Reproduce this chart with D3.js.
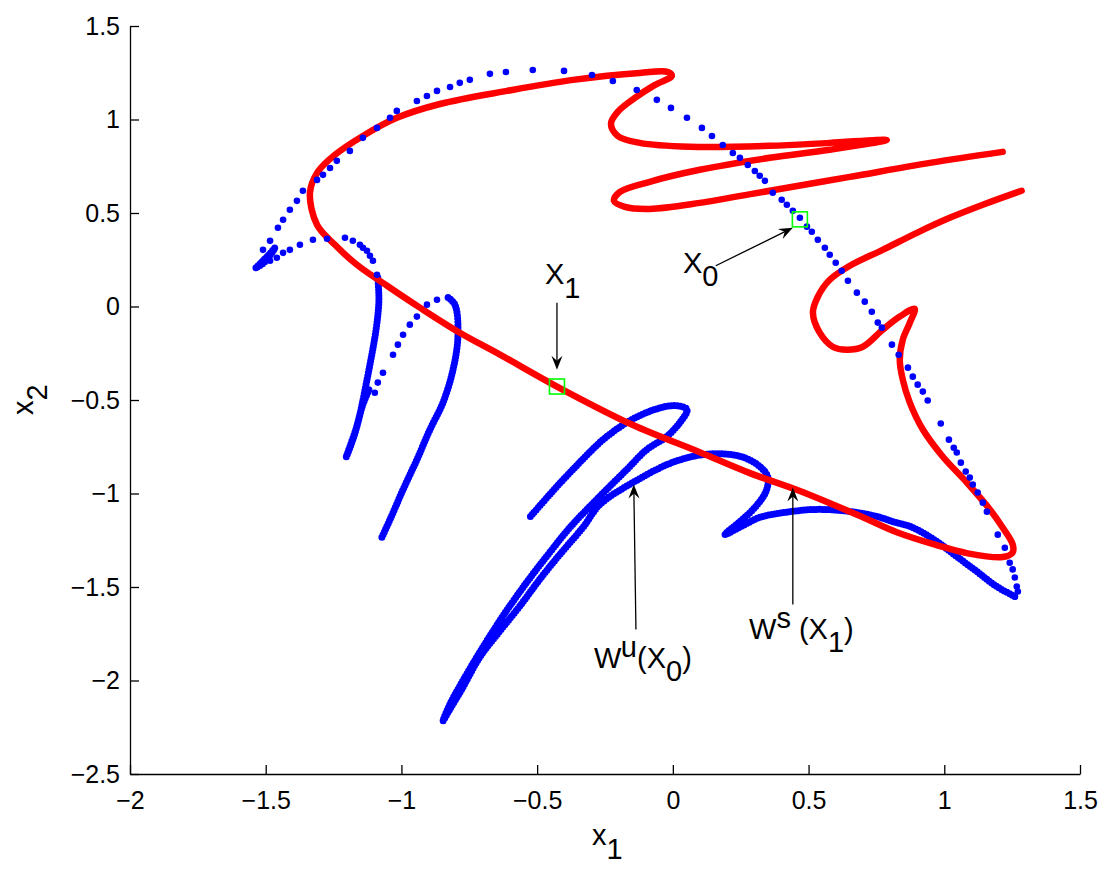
<!DOCTYPE html>
<html>
<head>
<meta charset="utf-8">
<script src="https://cdn.jsdelivr.net/npm/d3@7"></script>
<style>
  body { margin: 0; background: #fff; }
  text { font-family: "Liberation Sans", Arial, sans-serif; fill: #000; }
</style>
</head>
<body>
<script>
let w = 1117;
let h = 874;

let xDomain = [-2, 1.5];
let yDomain = [-2.5, 1.5];
let xTicks = [-2, -1.5, -1, -0.5, 0, 0.5, 1, 1.5];
let yTicks = [-2.5, -2, -1.5, -1, -0.5, 0, 0.5, 1, 1.5];

// fixed points
let X0 = [0.468, 0.466];
let X1 = [-0.427, -0.428];

// stable manifold W^s(X1) (red)
let wsCurve = [
  [1.285,0.619],[1.142,0.544],[1.020,0.474],[0.899,0.394],[0.773,0.303],[0.652,0.218],
  [0.578,0.143],[0.534,0.052],[0.516,-0.033],[0.541,-0.140],[0.589,-0.215],[0.641,-0.231],
  [0.700,-0.215],[0.773,-0.124],[0.836,-0.054],[0.891,-0.012],[0.873,-0.087],[0.847,-0.178],
  [0.836,-0.284],[0.847,-0.391],[0.873,-0.514],[0.921,-0.658],[0.994,-0.802],[1.083,-0.941],
  [1.168,-1.085],[1.215,-1.182],[1.252,-1.272],[1.252,-1.315],[1.215,-1.340],[1.083,-1.319],
  [0.972,-1.276],[0.825,-1.207],[0.700,-1.127],[0.468,-0.987],[0.284,-0.891],[0.099,-0.779],
  [-0.147,-0.634],[-0.427,-0.428],[-0.637,-0.257],[-0.785,-0.140],[-0.932,-0.006],[-1.053,0.111],
  [-1.164,0.223],[-1.245,0.330],[-1.311,0.437],[-1.337,0.608],[-1.308,0.720],[-1.245,0.811],
  [-1.142,0.912],[-1.017,1.009],[-0.858,1.083],[-0.611,1.153],[-0.368,1.212],[-0.122,1.249],
  [-0.018,1.254],[-0.004,1.233],[-0.066,1.185],[-0.140,1.115],[-0.203,1.041],[-0.228,0.977],
  [-0.203,0.912],[-0.122,0.875],[0.063,0.854],[0.357,0.859],[0.578,0.875],[0.788,0.891],
  [0.578,0.838],[0.357,0.795],[0.099,0.731],[-0.085,0.667],[-0.195,0.613],[-0.217,0.565],
  [-0.177,0.533],[-0.085,0.522],[0.099,0.554],[0.357,0.619],[0.652,0.693],[0.947,0.768],
  [1.215,0.827]
];

// unstable manifold W^u(X0) (blue): sparse dots along the outer arc
let wuDots = [
  [-1.090,0.170],[-1.105,0.245],[-1.116,0.271],[-1.127,0.298],[-1.142,0.314],[-1.153,0.330],
  [-1.179,0.352],[-1.208,0.368],[-1.274,0.362],[-1.326,0.357],[-1.374,0.330],[-1.411,0.303],
  [-1.436,0.287],[-1.459,0.261],[-1.484,0.245],
  [-1.510,0.303],[-1.484,0.351],[-1.455,0.421],[-1.436,0.464],[-1.411,0.517],[-1.385,0.565],
  [-1.363,0.619],[-1.311,0.677],[-1.289,0.704],[-1.263,0.741],[-1.238,0.779],[-1.190,0.832],
  [-1.142,0.902],[-1.090,0.955],[-1.042,1.009],[-1.017,1.046],[-0.943,1.099],[-0.906,1.126],
  [-0.869,1.153],[-0.821,1.174],[-0.785,1.196],[-0.748,1.212],[-0.674,1.244],[-0.615,1.254],
  [-0.516,1.265],[-0.401,1.260],[-0.298,1.238],[-0.221,1.206],[-0.133,1.158],[-0.059,1.105],
  [-0.007,1.062],[0.052,1.009],[0.107,0.955],[0.144,0.912],[0.184,0.864],[0.221,0.821],
  [0.247,0.795],[0.276,0.757],[0.302,0.725],[0.320,0.699],[0.339,0.672],[0.368,0.608],
  [0.401,0.571],[0.420,0.544],[0.442,0.512],[0.468,0.475],[0.494,0.427],[0.512,0.400],
  [0.534,0.357],[0.560,0.314],[0.578,0.277],[0.600,0.234],[0.622,0.191],[0.645,0.138],
  [0.678,0.074],[0.707,0.026],[0.733,-0.028],[0.755,-0.086],[0.770,-0.113],[0.807,-0.204],
  [0.832,-0.258],[0.866,-0.327],[0.884,-0.375],[0.902,-0.418],[0.921,-0.455],[0.939,-0.503],
  [0.987,-0.626],[1.017,-0.712],[1.035,-0.755],[1.046,-0.781],[1.061,-0.835],[1.079,-0.883],
  [1.094,-0.915],[1.105,-0.952],[1.123,-0.995],[1.142,-1.049],[1.157,-1.097],[1.197,-1.220],
  [1.223,-1.290],[1.241,-1.370],[1.252,-1.406],[1.260,-1.449],[1.267,-1.497],[1.271,-1.524],
  [1.260,-1.551],
  // branch between the two left lobes
  [-0.869,0.036],[-0.906,0.010],[-0.943,-0.054],[-0.969,-0.097],[-0.994,-0.151],[-1.013,-0.204],
  [-1.031,-0.258],[-1.068,-0.354],[-1.087,-0.407],[-1.098,-0.461]
];

// dense parts of W^u
let wuCluster = [[-1.536,0.207],[-1.514,0.239],[-1.492,0.271],[-1.466,0.314],[-1.503,0.239],[-1.536,0.207]];
let wuLobeA = [
  [-1.087,0.154],[-1.083,0.036],[-1.090,-0.086],[-1.101,-0.192],[-1.116,-0.310],[-1.134,-0.444],
  [-1.153,-0.577],[-1.175,-0.695],[-1.204,-0.807],[-1.168,-0.658],[-1.142,-0.524],[-1.116,-0.433]
];
let wuLobeB = [
  [-1.072,-1.234],[-1.042,-1.139],[-0.994,-0.979],[-0.943,-0.819],[-0.895,-0.658],[-0.847,-0.514],
  [-0.810,-0.338],[-0.792,-0.161],[-0.803,0.010],[-0.832,0.052]
];
let wuFold = [
  [1.260,-1.551],[1.193,-1.497],[1.120,-1.417],[1.046,-1.337],[0.972,-1.256],[0.884,-1.182],
  [0.810,-1.150],[0.751,-1.123],[0.652,-1.096],[0.530,-1.085],[0.413,-1.101],[0.320,-1.128],
  [0.265,-1.166],[0.192,-1.219],[0.247,-1.150],[0.302,-1.075],[0.343,-0.989],[0.350,-0.913],
  [0.320,-0.855],[0.247,-0.801],[0.125,-0.790],[0.000,-0.833],[-0.147,-0.941],[-0.269,-1.059],
  [-0.331,-1.181],[-0.416,-1.325],[-0.490,-1.458],[-0.564,-1.602],[-0.637,-1.735],[-0.711,-1.874],
  [-0.777,-2.045],[-0.821,-2.152],[-0.847,-2.216],[-0.821,-2.126],[-0.785,-2.030],[-0.711,-1.848],
  [-0.626,-1.655],[-0.538,-1.474],[-0.453,-1.314],[-0.379,-1.181],[-0.269,-1.015],[-0.169,-0.871],
  [-0.096,-0.765],[-0.022,-0.695],[0.026,-0.620],[0.052,-0.551],[0.000,-0.530],[-0.122,-0.583],
  [-0.243,-0.695],[-0.368,-0.871],[-0.453,-1.004],[-0.527,-1.127]
];

let viz = d3.select("body").append("svg")
    .attr("width", w)
    .attr("height", h)
    .style("background-color", "white")
;

let x = d3.scaleLinear().domain(xDomain).range([130, 1080]);
let y = d3.scaleLinear().domain(yDomain).range([774, 26]);

let fmt = d3.format("");

// axes, ticks pointing inwards like matlab
let xAxis = d3.axisBottom(x).tickValues(xTicks).tickFormat(fmt)
    .tickSizeInner(-9).tickSizeOuter(0).tickPadding(17);
let yAxis = d3.axisLeft(y).tickValues(yTicks).tickFormat(fmt)
    .tickSizeInner(-9).tickSizeOuter(0).tickPadding(10);

let gx = viz.append("g").attr("transform", "translate(0,774)").call(xAxis);
let gy = viz.append("g").attr("transform", "translate(130,0)").call(yAxis);
[gx, gy].forEach(function(g) {
  g.selectAll("path, line").attr("stroke", "#000").attr("stroke-width", 1.3);
  g.selectAll("text").attr("font-size", 25).attr("font-family", "Liberation Sans, Arial, sans-serif").attr("fill", "#000");
});

let curve = d3.line()
    .x(function(d) { return x(d[0]); })
    .y(function(d) { return y(d[1]); })
    .curve(d3.curveCatmullRom.alpha(0.5));

// blue dense parts
let denseGroup = viz.append("g");
[wuCluster, wuLobeA, wuLobeB, wuFold].forEach(function(seg) {
  denseGroup.append("path")
      .attr("d", curve(seg))
      .attr("fill", "none")
      .attr("stroke", "#0000ff")
      .attr("stroke-width", 7)
      .attr("stroke-linecap", "round")
      .attr("stroke-linejoin", "round")
      .attr("stroke-dasharray", "0 3");
});

// red stable manifold
viz.append("path")
    .attr("d", curve(wsCurve))
    .attr("fill", "none")
    .attr("stroke", "#ff0000")
    .attr("stroke-width", 6.5)
    .attr("stroke-linecap", "round")
    .attr("stroke-linejoin", "round");

// blue sparse dots
viz.append("g").selectAll("circle").data(wuDots).enter()
  .append("circle")
    .attr("cx", function(d) { return x(d[0]); })
    .attr("cy", function(d) { return y(d[1]); })
    .attr("r", 3.3)
    .attr("fill", "#0000ff");

// green squares on the fixed points
[X0, X1].forEach(function(p) {
  viz.append("rect")
      .attr("x", x(p[0]) - 7.5)
      .attr("y", y(p[1]) - 7.5)
      .attr("width", 15)
      .attr("height", 15)
      .attr("fill", "none")
      .attr("stroke", "#00ff00")
      .attr("stroke-width", 1.6);
});

function arrow(from, to) {
  let x1 = x(from[0]), y1 = y(from[1]), x2 = x(to[0]), y2 = y(to[1]);
  let len = Math.hypot(x2 - x1, y2 - y1);
  let ux = (x2 - x1) / len, uy = (y2 - y1) / len;
  let nx = -uy, ny = ux;
  viz.append("line")
      .attr("x1", x1).attr("y1", y1)
      .attr("x2", x2 - ux * 6).attr("y2", y2 - uy * 6)
      .attr("stroke", "#000").attr("stroke-width", 1.3);
  let pts = [
    [x2, y2],
    [x2 - ux * 14 + nx * 5.5, y2 - uy * 14 + ny * 5.5],
    [x2 - ux * 9, y2 - uy * 9],
    [x2 - ux * 14 - nx * 5.5, y2 - uy * 14 - ny * 5.5]
  ];
  viz.append("path")
      .attr("d", "M" + pts.map(function(p) { return p.join(","); }).join("L") + "Z")
      .attr("fill", "#000");
}

arrow([-0.427, 0.020], [-0.427, -0.338]);
arrow([0.158, 0.218], [0.442, 0.421]);
arrow([-0.136, -1.727], [-0.144, -0.952]);
arrow([0.442, -1.594], [0.442, -0.968]);

// text with sub/superscripts: parts = [[string, shift], ...]
function label(px, py, parts, size, rotate) {
  let t = viz.append("text")
      .attr("font-size", size)
      .attr("transform", "translate(" + px + "," + py + ")" + (rotate ? " rotate(-90)" : ""));
  let shift = 0;
  parts.forEach(function(p) {
    t.append("tspan")
        .attr("dy", p[1] - shift)
        .text(p[0]);
    shift = p[1];
  });
  return t;
}

label(545, 284, [["X", 0], ["1", 14]], 29);
label(683, 273, [["X", 0], ["0", 13]], 29);
label(594, 668, [["W", 0], ["u", -11], ["(X", 0], ["0", 13], [")", 0]], 29);
label(749, 639, [["W", 0], ["s", -11], [" (X", 0], ["1", 13], [")", 0]], 29);
label(592, 845, [["x", 0], ["1", 14]], 29);
label(33, 415, [["x", 0], ["2", 14]], 29, true);
</script>
</body>
</html>
